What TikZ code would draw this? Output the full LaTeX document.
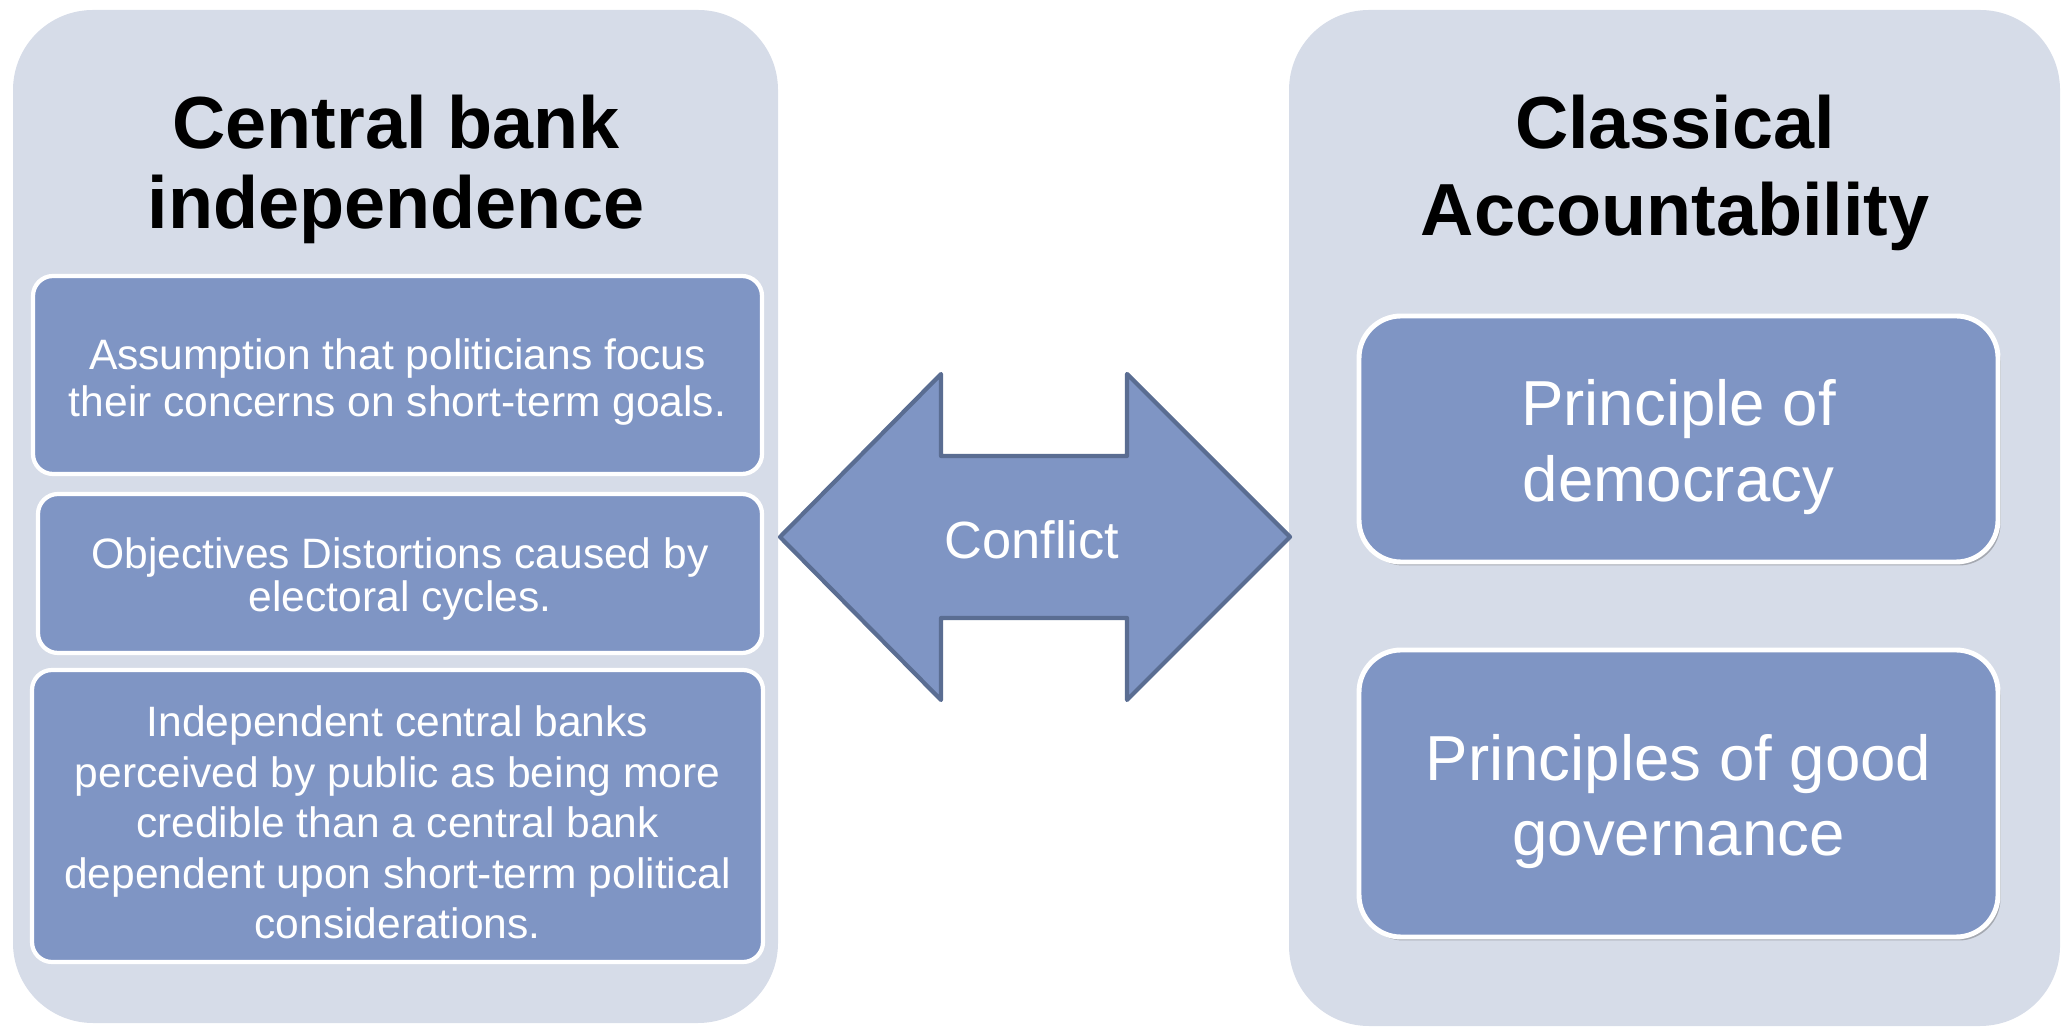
\documentclass[tikz,border=0pt]{standalone}
\usepackage{fontspec}
\setmainfont{Liberation Sans}
\usepackage{xcolor}
\usepackage{tikz}
\usetikzlibrary{arrows,positioning,shapes,shadows}
\definecolor{panelgray}{RGB}{214,220,232}
\definecolor{boxblue}{RGB}{127,149,196}
\definecolor{arrowline}{RGB}{90,109,146}
\tikzset{>=stealth}
\tikzset{
	panel/.style={fill=panelgray, rounded corners=0.8cm},
	title/.style={font=\bfseries\fontsize{21}{22.8}\selectfont, align=center},
	leftbox/.style={draw=white, line width=1.2pt, fill=boxblue, rounded corners=0.2cm, inner sep=0pt},
	lefttext/.style={text=white, align=center, inner sep=0pt, font=\fontsize{12.1}{13.1}\selectfont},
	rightbox/.style={draw=white, line width=1.4pt, fill=boxblue, rounded corners=0.42cm, inner sep=0pt, drop shadow={shadow xshift=0.025cm, shadow yshift=-0.035cm, opacity=0.35, fill=black!70}},
	righttext/.style={text=white, align=center, inner sep=0pt, font=\fontsize{18.1}{21.4}\selectfont}
}

\begin{document}
\begin{tikzpicture}
					\useasboundingbox (0,0) rectangle (20.62,10.28);
					%Panels
					\fill[panel] (0.13,0.05) rectangle (7.78,10.18);
					\fill[panel] (12.89,0.02) rectangle (20.60,10.18);
					%Titles
					\node[title] (T1) at (3.96,8.59) {Central bank\\independence};
					\node[title, font=\bfseries\fontsize{21}{25}\selectfont] (T2) at (16.75,8.55) {Classical\\Accountability};
					%Left side
					\node[leftbox, minimum width=7.29cm, minimum height=1.98cm] (L1) at (3.975,6.53) {};
					\node[leftbox, minimum width=7.24cm, minimum height=1.59cm] (L2) at (4.0,4.545) {};
					\node[leftbox, minimum width=7.31cm, minimum height=2.92cm] (L3) at (3.975,2.12) {};
					\node[lefttext] (L1t) at ([yshift=-0.07cm]L1) {Assumption that politicians focus\\their concerns on short-term goals.};
					\node[lefttext, font=\fontsize{12.1}{12.4}\selectfont] (L2t) at ([yshift=-0.055cm]L2) {Objectives Distortions caused by\\electoral cycles.};
					\node[lefttext, font=\fontsize{12.1}{14.4}\selectfont] (L3t) at ([yshift=-0.065cm]L3) {Independent central banks\\perceived by public as being more\\credible than a central bank\\dependent upon short-term political\\considerations.};
					%Right side
					\node[rightbox, minimum width=6.39cm, minimum height=2.46cm] (R1) at (16.785,5.89) {};
					\node[rightbox, minimum width=6.39cm, minimum height=2.87cm] (R2) at (16.785,2.345) {};
					\node[righttext] (R1t) at ([yshift=-0.08cm]R1) {Principle of\\democracy};
					\node[righttext] (R2t) at ([yshift=-0.08cm]R2) {Principles of good\\governance};
					%Arrow
					\draw[fill=boxblue, draw=arrowline, line width=1.2pt, line join=round] (7.80,4.91) -- (9.41,6.54) -- (9.41,5.72) -- (11.27,5.72) -- (11.27,6.54) -- (12.90,4.91) -- (11.27,3.28) -- (11.27,4.10) -- (9.41,4.10) -- (9.41,3.28) -- cycle;
					\node[text=white, font=\fontsize{14.9}{18}\selectfont] (C) at (10.32,4.88) {Conflict};
\end{tikzpicture}
\end{document}
